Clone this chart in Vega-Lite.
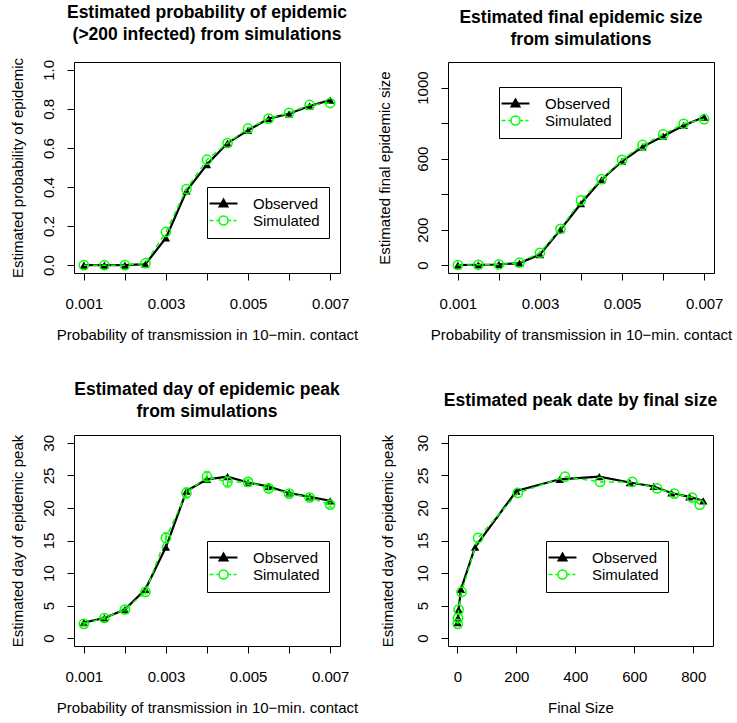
{
  "$schema": "https://vega.github.io/schema/vega-lite/v6.json",
  "background": "white",
  "padding": {"left": 9, "top": 3, "right": 5, "bottom": 5},
  "datasets": {
    "d": [
      {"p": 0.001, "series": "Observed", "prob": 0.0, "size": 1, "peak": 2.4},
      {"p": 0.0015, "series": "Observed", "prob": 0.0, "size": 2, "peak": 3.1},
      {"p": 0.002, "series": "Observed", "prob": 0.0, "size": 4, "peak": 4.4},
      {"p": 0.0025, "series": "Observed", "prob": 0.005, "size": 12, "peak": 7.5},
      {"p": 0.003, "series": "Observed", "prob": 0.14, "size": 60, "peak": 14.0},
      {"p": 0.0035, "series": "Observed", "prob": 0.38, "size": 200, "peak": 22.6},
      {"p": 0.004, "series": "Observed", "prob": 0.515, "size": 347, "peak": 24.4},
      {"p": 0.0045, "series": "Observed", "prob": 0.625, "size": 481, "peak": 24.8},
      {"p": 0.005, "series": "Observed", "prob": 0.69, "size": 585, "peak": 23.9},
      {"p": 0.0055, "series": "Observed", "prob": 0.75, "size": 666, "peak": 23.3},
      {"p": 0.006, "series": "Observed", "prob": 0.775, "size": 726, "peak": 22.3},
      {"p": 0.0065, "series": "Observed", "prob": 0.815, "size": 787, "peak": 21.7},
      {"p": 0.007, "series": "Observed", "prob": 0.845, "size": 834, "peak": 21.1},
      {"p": 0.001, "series": "Simulated", "prob": 0.0, "size": 1, "peak": 2.2, "lo": 2.0, "hi": 2.4},
      {"p": 0.0015, "series": "Simulated", "prob": 0.0, "size": 2, "peak": 3.1, "lo": 2.9, "hi": 3.3},
      {"p": 0.002, "series": "Simulated", "prob": 0.0, "size": 4, "peak": 4.4, "lo": 4.2, "hi": 4.6},
      {"p": 0.0025, "series": "Simulated", "prob": 0.01, "size": 14, "peak": 7.1, "lo": 6.8, "hi": 7.4},
      {"p": 0.003, "series": "Simulated", "prob": 0.17, "size": 70, "peak": 15.4, "lo": 14.6, "hi": 16.2},
      {"p": 0.0035, "series": "Simulated", "prob": 0.39, "size": 205, "peak": 22.3, "lo": 21.5, "hi": 23.1},
      {"p": 0.004, "series": "Simulated", "prob": 0.54, "size": 365, "peak": 24.8, "lo": 24.0, "hi": 25.6},
      {"p": 0.0045, "series": "Simulated", "prob": 0.625, "size": 484, "peak": 24.0, "lo": 23.2, "hi": 24.8},
      {"p": 0.005, "series": "Simulated", "prob": 0.70, "size": 593, "peak": 24.0, "lo": 23.6, "hi": 24.4},
      {"p": 0.0055, "series": "Simulated", "prob": 0.75, "size": 677, "peak": 23.0, "lo": 22.6, "hi": 23.4},
      {"p": 0.006, "series": "Simulated", "prob": 0.78, "size": 736, "peak": 22.2, "lo": 21.9, "hi": 22.5},
      {"p": 0.0065, "series": "Simulated", "prob": 0.82, "size": 796, "peak": 21.6, "lo": 21.3, "hi": 21.9},
      {"p": 0.007, "series": "Simulated", "prob": 0.83, "size": 822, "peak": 20.5, "lo": 20.1, "hi": 20.9}
    ]
  },
  "data": {"name": "d"},
  "columns": 2,
  "spacing": {"row": 37, "column": 17},
  "concat": [
    {
      "width": 266, "height": 211,
      "title": {"text": ["Estimated probability of epidemic", "(>200 infected) from simulations"]},
      "encoding": {
        "x": {"field": "p", "type": "quantitative", "scale": {"domain": [0.00076, 0.00724], "nice": false, "zero": false},
              "axis": {"values": [0.001, 0.002, 0.003, 0.004, 0.005, 0.006, 0.007], "labelExpr": "round(datum.value*10000) % 20 == 10 ? format(datum.value, '.3f') : ''", "title": "Probability of transmission in 10\u2212min. contact"}},
        "y": {"field": "prob", "type": "quantitative", "scale": {"domain": [-0.04, 1.04], "nice": false, "zero": false},
              "axis": {"values": [0, 0.2, 0.4, 0.6, 0.8, 1.0], "format": ".1f", "title": "Estimated probability of epidemic"}}
      },
      "layer": [
        {"transform": [{"filter": "datum.series === 'Observed'"}], "mark": {"type": "line", "strokeWidth": 2.2},
         "encoding": {"color": {"field": "series", "type": "nominal", "scale": {"domain": ["Observed", "Simulated"], "range": ["black", "#00ff00"]},
           "legend": {"orient": "none", "legendX": 133, "legendY": 125,
             "encode": {"symbols": {"update": {
               "shape": {"signal": "datum.value === 'Observed' ? 'M-1.55,0L1.55,0M0,-0.45L0.44,0.33L-0.44,0.33Z' : 'M-1.55,0L-1.1,0M-0.8,0L-0.5,0M0.5,0L0.85,0M1.1,0L1.45,0M0.5,0A0.5,0.5,0,1,1,-0.5,0A0.5,0.5,0,1,1,0.5,0'"},
               "fill": {"signal": "datum.value === 'Observed' ? 'black' : 'transparent'"},
               "stroke": {"signal": "datum.value === 'Observed' ? 'black' : '#00ff00'"},
               "strokeWidth": {"signal": "datum.value === 'Observed' ? 2 : 1.5"},
               "opacity": {"value": 1}}}}}}}},
        {"transform": [{"filter": "datum.series === 'Observed'"}], "mark": {"type": "point", "shape": "triangle-up", "filled": true, "color": "black", "size": 70, "opacity": 1}},
        {"transform": [{"filter": "datum.series === 'Simulated'"}], "mark": {"type": "line", "strokeWidth": 1.5, "strokeDash": [5, 4]},
         "encoding": {"color": {"field": "series", "type": "nominal"}}},
        {"transform": [{"filter": "datum.series === 'Simulated'"}], "mark": {"type": "point", "shape": "circle", "filled": false, "color": "#00ff00", "size": 85, "strokeWidth": 1.5, "opacity": 1}}
      ]
    },
    {
      "width": 266, "height": 211,
      "title": {"text": ["Estimated final epidemic size", "from simulations"]},
      "encoding": {
        "x": {"field": "p", "type": "quantitative", "scale": {"domain": [0.00076, 0.00724], "nice": false, "zero": false},
              "axis": {"values": [0.001, 0.002, 0.003, 0.004, 0.005, 0.006, 0.007], "labelExpr": "round(datum.value*10000) % 20 == 10 ? format(datum.value, '.3f') : ''", "title": "Probability of transmission in 10\u2212min. contact"}},
        "y": {"field": "size", "type": "quantitative", "scale": {"domain": [-44, 1144], "nice": false, "zero": false},
              "axis": {"values": [0, 200, 400, 600, 800, 1000], "labelExpr": "datum.value == 400 || datum.value == 800 ? '' : format(datum.value, 'd')", "title": "Estimated final epidemic size", "titlePadding": 23}}
      },
      "layer": [
        {"transform": [{"filter": "datum.series === 'Observed'"}], "mark": {"type": "line", "strokeWidth": 2.2},
         "encoding": {"color": {"field": "series", "type": "nominal", "scale": {"domain": ["Observed", "Simulated"], "range": ["black", "#00ff00"]},
           "legend": {"orient": "none", "legendX": 51, "legendY": 25,
             "encode": {"symbols": {"update": {
               "shape": {"signal": "datum.value === 'Observed' ? 'M-1.55,0L1.55,0M0,-0.45L0.44,0.33L-0.44,0.33Z' : 'M-1.55,0L-1.1,0M-0.8,0L-0.5,0M0.5,0L0.85,0M1.1,0L1.45,0M0.5,0A0.5,0.5,0,1,1,-0.5,0A0.5,0.5,0,1,1,0.5,0'"},
               "fill": {"signal": "datum.value === 'Observed' ? 'black' : 'transparent'"},
               "stroke": {"signal": "datum.value === 'Observed' ? 'black' : '#00ff00'"},
               "strokeWidth": {"signal": "datum.value === 'Observed' ? 2 : 1.5"},
               "opacity": {"value": 1}}}}}}}},
        {"transform": [{"filter": "datum.series === 'Observed'"}], "mark": {"type": "point", "shape": "triangle-up", "filled": true, "color": "black", "size": 70, "opacity": 1}},
        {"transform": [{"filter": "datum.series === 'Simulated'"}], "mark": {"type": "line", "strokeWidth": 1.5, "strokeDash": [5, 4]},
         "encoding": {"color": {"field": "series", "type": "nominal"}}},
        {"transform": [{"filter": "datum.series === 'Simulated'"}], "mark": {"type": "point", "shape": "circle", "filled": false, "color": "#00ff00", "size": 85, "strokeWidth": 1.5, "opacity": 1}}
      ]
    },
    {
      "width": 266, "height": 211,
      "title": {"text": ["Estimated day of epidemic peak", "from simulations"]},
      "encoding": {
        "x": {"field": "p", "type": "quantitative", "scale": {"domain": [0.00076, 0.00724], "nice": false, "zero": false},
              "axis": {"values": [0.001, 0.002, 0.003, 0.004, 0.005, 0.006, 0.007], "labelExpr": "round(datum.value*10000) % 20 == 10 ? format(datum.value, '.3f') : ''", "title": "Probability of transmission in 10\u2212min. contact"}},
        "y": {"field": "peak", "type": "quantitative", "scale": {"domain": [-1.2, 31.2], "nice": false, "zero": false},
              "axis": {"values": [0, 5, 10, 15, 20, 25, 30], "format": "d", "title": "Estimated day of epidemic peak"}}
      },
      "layer": [
        {"transform": [{"filter": "datum.series === 'Observed'"}], "mark": {"type": "line", "strokeWidth": 2.2},
         "encoding": {"color": {"field": "series", "type": "nominal", "scale": {"domain": ["Observed", "Simulated"], "range": ["black", "#00ff00"]},
           "legend": {"orient": "none", "legendX": 133, "legendY": 106,
             "encode": {"symbols": {"update": {
               "shape": {"signal": "datum.value === 'Observed' ? 'M-1.55,0L1.55,0M0,-0.45L0.44,0.33L-0.44,0.33Z' : 'M-1.55,0L-1.1,0M-0.8,0L-0.5,0M0.5,0L0.85,0M1.1,0L1.45,0M0.5,0A0.5,0.5,0,1,1,-0.5,0A0.5,0.5,0,1,1,0.5,0'"},
               "fill": {"signal": "datum.value === 'Observed' ? 'black' : 'transparent'"},
               "stroke": {"signal": "datum.value === 'Observed' ? 'black' : '#00ff00'"},
               "strokeWidth": {"signal": "datum.value === 'Observed' ? 2 : 1.5"},
               "opacity": {"value": 1}}}}}}}},
        {"transform": [{"filter": "datum.series === 'Observed'"}], "mark": {"type": "point", "shape": "triangle-up", "filled": true, "color": "black", "size": 70, "opacity": 1}},
        {"transform": [{"filter": "datum.series === 'Simulated'"}], "mark": {"type": "errorbar", "color": "#00ff00", "thickness": 1.2, "ticks": {"size": 6, "thickness": 1.2}},
         "encoding": {"y": {"field": "lo", "type": "quantitative"}, "y2": {"field": "hi"}}},
        {"transform": [{"filter": "datum.series === 'Simulated'"}], "mark": {"type": "line", "strokeWidth": 1.5, "strokeDash": [5, 4]},
         "encoding": {"color": {"field": "series", "type": "nominal"}}},
        {"transform": [{"filter": "datum.series === 'Simulated'"}], "mark": {"type": "point", "shape": "circle", "filled": false, "color": "#00ff00", "size": 85, "strokeWidth": 1.5, "opacity": 1}}
      ]
    },
    {
      "width": 265, "height": 211,
      "title": {"text": "Estimated peak date by final size", "offset": 25},
      "encoding": {
        "x": {"field": "size", "type": "quantitative", "scale": {"domain": [-32, 867], "nice": false, "zero": false},
              "axis": {"values": [0, 200, 400, 600, 800], "format": "d", "title": "Final Size"}},
        "y": {"field": "peak", "type": "quantitative", "scale": {"domain": [-1.2, 31.2], "nice": false, "zero": false},
              "axis": {"values": [0, 5, 10, 15, 20, 25, 30], "format": "d", "title": "Estimated day of epidemic peak", "titlePadding": 20}},
        "order": {"field": "p", "type": "quantitative"}
      },
      "layer": [
        {"transform": [{"filter": "datum.series === 'Observed'"}], "mark": {"type": "line", "strokeWidth": 2.2},
         "encoding": {"color": {"field": "series", "type": "nominal", "scale": {"domain": ["Observed", "Simulated"], "range": ["black", "#00ff00"]},
           "legend": {"orient": "none", "legendX": 98, "legendY": 106,
             "encode": {"symbols": {"update": {
               "shape": {"signal": "datum.value === 'Observed' ? 'M-1.55,0L1.55,0M0,-0.45L0.44,0.33L-0.44,0.33Z' : 'M-1.55,0L-1.1,0M-0.8,0L-0.5,0M0.5,0L0.85,0M1.1,0L1.45,0M0.5,0A0.5,0.5,0,1,1,-0.5,0A0.5,0.5,0,1,1,0.5,0'"},
               "fill": {"signal": "datum.value === 'Observed' ? 'black' : 'transparent'"},
               "stroke": {"signal": "datum.value === 'Observed' ? 'black' : '#00ff00'"},
               "strokeWidth": {"signal": "datum.value === 'Observed' ? 2 : 1.5"},
               "opacity": {"value": 1}}}}}}}},
        {"transform": [{"filter": "datum.series === 'Observed'"}], "mark": {"type": "point", "shape": "triangle-up", "filled": true, "color": "black", "size": 70, "opacity": 1}},
        {"transform": [{"filter": "datum.series === 'Simulated'"}], "mark": {"type": "line", "strokeWidth": 1.5, "strokeDash": [5, 4]},
         "encoding": {"color": {"field": "series", "type": "nominal"}}},
        {"transform": [{"filter": "datum.series === 'Simulated'"}], "mark": {"type": "point", "shape": "circle", "filled": false, "color": "#00ff00", "size": 85, "strokeWidth": 1.5, "opacity": 1}}
      ]
    }
  ],
  "resolve": {"scale": {"color": "independent"}, "legend": {"color": "independent"}},
  "config": {
    "font": "Liberation Sans",
    "view": {"stroke": "black", "strokeWidth": 1},
    "title": {"font": "Liberation Sans", "fontSize": 17.5, "fontWeight": "bold", "color": "black", "lineHeight": 22, "offset": 14, "anchor": "middle"},
    "axis": {"domain": false, "grid": false, "tickColor": "black", "tickSize": 7, "tickWidth": 1,
             "labelFont": "Liberation Sans", "labelFontSize": 15, "labelColor": "black", "labelPadding": 16, "labelOverlap": false, "labelFlush": false,
             "titleFont": "Liberation Sans", "titleFontSize": 15, "titleFontWeight": "normal", "titleColor": "black", "titlePadding": 16},
    "axisLeft": {"labelAngle": -90, "labelAlign": "center", "labelBaseline": "bottom", "labelPadding": 11, "titlePadding": 16},
    "legend": {"title": null, "strokeColor": "black", "fillColor": "white", "padding": 9, "cornerRadius": 0,
               "labelFont": "Liberation Sans", "labelFontSize": 15, "labelColor": "black", "labelOffset": 22, "labelLimit": 300,
               "symbolSize": 324, "rowPadding": 1, "symbolStrokeWidth": 1.5}
  }
}
